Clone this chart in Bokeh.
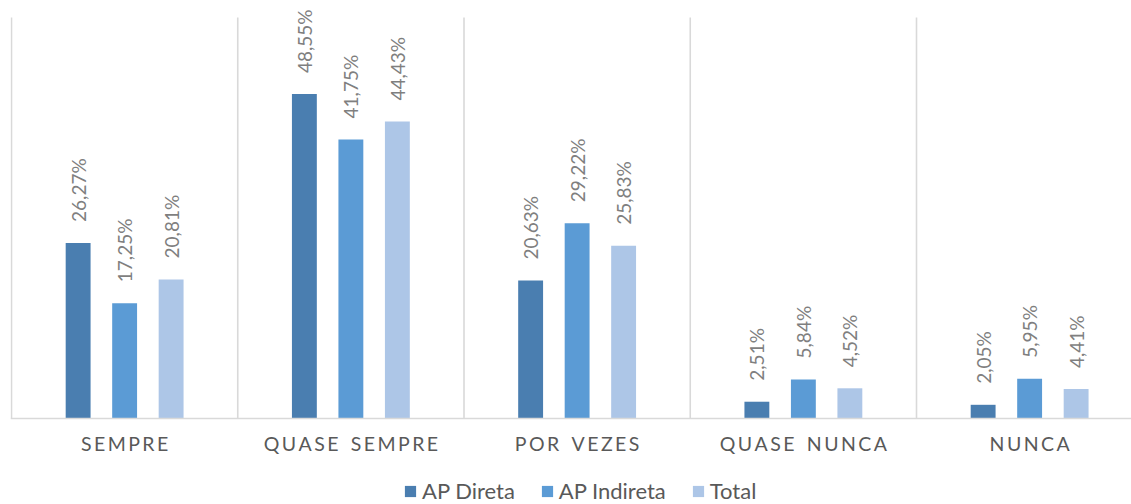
import math
from bokeh.plotting import figure
from bokeh.models import Range1d, FixedTicker, ColumnDataSource, Legend, LegendItem
from bokeh.core.properties import value
from bokeh.embed import file_html
from bokeh.resources import INLINE

categories = ["SEMPRE", "QUASE SEMPRE", "POR VEZES", "QUASE NUNCA", "NUNCA"]
ap_direta = [26.27, 48.55, 20.63, 2.51, 2.05]
ap_indireta = [17.25, 41.75, 29.22, 5.84, 5.95]
total = [20.81, 44.43, 25.83, 4.52, 4.41]
series_names = ["AP Direta", "AP Indireta", "Total"]
series_colors = ["#4A7EB0", "#5B9BD5", "#ADC6E7"]
y_max = 60

FONT = "Lato"
cat_w = 226.25
px_per_unit = 401 / 60.0

p = figure(width=1131, height=504, output_backend="svg", toolbar_location=None,
           x_range=Range1d(-1 / cat_w, -1 / cat_w + 1121 / cat_w),
           y_range=Range1d(-86 / px_per_unit, 418 / px_per_unit),
           min_border_left=10, min_border_right=0, min_border_top=0, min_border_bottom=0)
p.outline_line_color = None
p.yaxis.visible = False
p.ygrid.visible = False
p.xgrid.visible = False
p.background_fill_color = "white"

# category separators
seps = list(range(len(categories) + 1))
p.segment(x0=seps, y0=[0] * len(seps), x1=seps, y1=[y_max] * len(seps),
          line_color="#d9d9d9", line_width=1.6)

centers = [i + 0.5 for i in range(len(categories))]
p.xaxis.fixed_location = 0
p.xaxis.ticker = FixedTicker(ticks=centers)


def spaced(s):
    return "\u2009".join(list(s)).replace("\u2009 \u2009", "\u2009\u2009 \u2009")


p.xaxis.major_label_overrides = {c: spaced(n) for c, n in zip(centers, categories)}
p.xaxis.axis_line_color = "#d9d9d9"
p.xaxis.axis_line_width = 1.6
p.xaxis.major_tick_line_color = None
p.xaxis.minor_tick_line_color = None
p.xaxis.major_tick_out = 0
p.xaxis.major_tick_in = 0
p.xaxis.major_label_standoff = 13
p.xaxis.major_label_text_font = FONT
p.xaxis.major_label_text_font_size = "19.5px"
p.xaxis.major_label_text_color = "#595959"

offsets = [-0.2055, 0.0, 0.2055]
items = []
for vals, name, col, off in zip([ap_direta, ap_indireta, total], series_names, series_colors, offsets):
    src = ColumnDataSource(dict(
        x=[c + off for c in centers],
        top=vals,
        lab=[("%.2f" % v).replace(".", ",") + "%" for v in vals],
    ))
    r = p.vbar(x="x", top="top", bottom=0, width=0.11, source=src,
               fill_color=col, line_color=None)
    p.text(x="x", y="top", text="lab", source=src, angle=math.pi / 2,
           text_align="left", text_baseline="middle", y_offset=-21,
           text_font=value(FONT), text_font_size="19px", text_color="#7f7f7f")
    items.append(LegendItem(label=name, renderers=[r]))

legend = Legend(items=items, orientation="horizontal", location=(393, 0),
                glyph_width=14, glyph_height=14, label_height=14, label_standoff=5,
                spacing=25, padding=0, margin=0, border_line_color=None,
                background_fill_alpha=0, label_text_font=FONT,
                label_text_font_size="22px", label_text_color="#595959")
p.add_layout(legend, "center")

open("out.html", "w").write(file_html(p, INLINE))
